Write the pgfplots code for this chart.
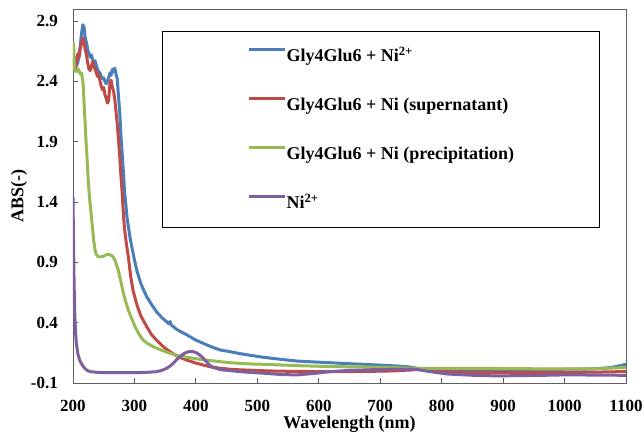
\documentclass[border=0pt]{standalone}
\usepackage{fontspec}
\setmainfont{Liberation Serif}
\usepackage{pgfplots}
\pgfplotsset{compat=1.18}

\definecolor{sblue}{HTML}{4A7EBB}
\definecolor{sred}{HTML}{BE4B48}
\definecolor{sgreen}{HTML}{98B954}
\definecolor{spurple}{HTML}{7D60A0}

\begin{document}
\begin{tikzpicture}
\useasboundingbox (-73pt,-52pt) rectangle (571pt,383pt);
\begin{axis}[
    scale only axis,
    width=553pt, height=374pt,
    xmin=200, xmax=1100,
    ymin=-0.1, ymax=3.0,
    xtick={200,300,400,500,600,700,800,900,1000,1100},
    xticklabels={200,300,400,500,600,700,800,900,1000,1100},
    ytick={-0.1,0.4,0.9,1.4,1.9,2.4,2.9},
    yticklabels={-0.1,0.4,0.9,1.4,1.9,2.4,2.9},
    xtick pos=bottom, ytick pos=left,
    tick align=inside,
    major tick length=5pt,
    tick style={gray!70!black, line width=0.8pt},
    axis line style={gray!75!black, line width=0.8pt},
    /pgf/number format/assume math mode=true,
    ticklabel style={font=\fontsize{17}{20}\selectfont\bfseries},
    yticklabel style={inner sep=0pt, xshift=-15pt},
    xticklabel style={inner sep=0pt, yshift=-17pt},
    xlabel={Wavelength (nm)},
    ylabel={ABS(-)},
    every axis x label/.style={at={(axis description cs:0.5,0)}, anchor=center, yshift=-41pt,
        font=\fontsize{18}{21}\selectfont\bfseries},
    every axis y label/.style={at={(axis description cs:0,0.5)}, anchor=center, xshift=-54pt, rotate=90,
        font=\fontsize{18}{21}\selectfont\bfseries},
    legend style={at={(axis description cs:0.1609,0.9412)}, anchor=north west,
        draw=black, line width=0.8pt, inner xsep=85pt, inner ysep=16.5pt,
        row sep=33pt, font=\fontsize{18}{21}\selectfont\bfseries,
        nodes={inner sep=0pt, text height=14pt, text depth=2pt}},
    legend cell align=left,
    legend image code/.code={\draw[#1, line width=3.2pt] (0pt,6pt) -- (36pt,6pt);},
    every axis plot/.append style={line width=3pt, line join=round},
]
\addplot[sblue] coordinates {
(200,2.55) (203,2.60) (205,2.52) (208,2.56) (210,2.62) (212,2.70) (214,2.80) (216,2.87) (218,2.85) (220,2.76)
(222,2.72) (224,2.66) (226,2.63) (228,2.60) (230,2.62) (232,2.58) (234,2.56) (236,2.57) (238,2.53) (240,2.50)
(242,2.48) (244,2.47) (246,2.44) (248,2.42) (250,2.43) (252,2.40) (254,2.38) (256,2.40) (258,2.43) (260,2.47)
(262,2.45) (264,2.50) (266,2.48) (268,2.51) (270,2.46) (272,2.42) (274,2.28) (276,2.15) (278,1.95) (280,1.80)
(282,1.65) (284,1.48) (286,1.38) (288,1.27) (290,1.20) (293,1.10) (296,1.02) (300,0.92) (304,0.83) (310,0.73)
(315,0.67) (320,0.615) (328,0.55) (336,0.49) (345,0.44) (352,0.41) (356,0.39) (358,0.41) (360,0.38) (370,0.34)
(385,0.30) (400,0.255) (412,0.229) (425,0.20) (440,0.173) (455,0.16) (470,0.145) (488,0.13) (510,0.113) (540,0.095)
(564,0.082) (590,0.075) (618,0.068) (645,0.061) (673,0.055) (700,0.048) (727,0.041) (745,0.035) (760,0.022) (781,0.014)
(800,0.013) (850,0.013) (900,0.013) (950,0.013) (1000,0.014) (1030,0.015) (1053,0.019) (1075,0.028) (1091,0.044) (1100,0.055)
};
\addlegendentry{Gly4Glu6 + Ni\textsuperscript{2+}}
\addplot[sred] coordinates {
(200,2.49) (202,2.56) (204,2.50) (206,2.58) (208,2.63) (210,2.60) (212,2.68) (214,2.72) (216,2.76) (218,2.72)
(220,2.66) (222,2.62) (224,2.55) (226,2.50) (228,2.49) (230,2.53) (232,2.56) (234,2.52) (236,2.50) (238,2.47)
(240,2.44) (242,2.46) (244,2.40) (246,2.36) (248,2.33) (250,2.35) (252,2.29) (254,2.26) (256,2.22) (258,2.24)
(260,2.38) (262,2.41) (264,2.35) (266,2.32) (268,2.25) (270,2.15) (272,2.05) (274,1.92) (276,1.78) (278,1.62)
(280,1.48) (282,1.30) (284,1.17) (287,1.05) (290,0.95) (294,0.78) (298,0.66) (304,0.55) (310,0.46) (320,0.367)
(328,0.30) (336,0.256) (347,0.20) (358,0.159) (370,0.12) (385,0.09) (400,0.065) (412,0.049) (425,0.033) (440,0.022)
(460,0.012) (488,0.006) (520,0.0) (560,-0.004) (620,-0.006) (680,-0.004) (720,0.0) (750,0.008) (760,0.012) (780,0.0)
(800,-0.008) (850,-0.012) (900,-0.014) (950,-0.014) (1000,-0.012) (1050,-0.01) (1100,-0.005)
};
\addlegendentry{Gly4Glu6 + Ni (supernatant)}
\addplot[sgreen] coordinates {
(200,2.73) (201,2.70) (202,2.55) (203,2.49) (206,2.48) (209,2.50) (212,2.46) (214,2.47) (216,2.40) (217,2.35)
(218,2.22) (219.5,2.08) (221,1.92) (222.5,1.80) (224,1.66) (225,1.56) (227,1.43) (229,1.33) (232,1.17) (234,1.07)
(236,1.00) (238,0.965) (241,0.947) (245,0.945) (249,0.95) (253,0.96) (257,0.966) (261,0.962) (265,0.947) (269,0.91)
(272,0.86) (274,0.83) (278,0.74) (282,0.643) (286,0.57) (290,0.505) (295,0.44) (301,0.367) (308,0.30) (314,0.256)
(322,0.225) (331,0.20) (345,0.17) (358,0.146) (370,0.128) (385,0.113) (410,0.094) (439,0.077) (455,0.068) (488,0.058)
(510,0.055) (564,0.044) (618,0.036) (673,0.033) (720,0.028) (760,0.022) (808,0.022) (900,0.02) (998,0.016) (1050,0.018)
(1091,0.027) (1100,0.03)
};
\addlegendentry{Gly4Glu6 + Ni (precipitation)}
\addplot[spurple] coordinates {
(200,1.44) (200.8,1.1) (201.6,0.78) (202.7,0.50) (204,0.33) (205.4,0.23) (208,0.14) (210.8,0.09) (215,0.05) (219,0.022)
(223,0.005) (227.7,-0.006) (240,-0.012) (249,-0.014) (275,-0.015) (303.6,-0.014) (320,-0.012) (336,-0.006) (345,0.005) (352.5,0.022)
(358,0.04) (363,0.063) (368,0.09) (374,0.118) (380,0.142) (385,0.155) (390,0.16) (395.5,0.16) (401,0.15) (406.4,0.132)
(412,0.105) (417,0.077) (422,0.05) (428,0.03) (436,0.016) (444,0.008) (455,0.003) (470,-0.005) (488,-0.012) (510,-0.019)
(540,-0.03) (564,-0.033) (590,-0.022) (618,-0.006) (645,0.003) (673,0.008) (700,0.012) (727,0.016) (745,0.016) (760,0.013)
(780,-0.005) (808,-0.025) (850,-0.036) (889,-0.041) (950,-0.038) (998,-0.033) (1050,-0.034) (1091,-0.036) (1100,-0.037)
};
\addlegendentry{Ni\textsuperscript{2+}}
\draw[black, line width=0.9pt] (rel axis cs:0,0) -- (rel axis cs:1,0);
\end{axis}
\end{tikzpicture}
\end{document}
